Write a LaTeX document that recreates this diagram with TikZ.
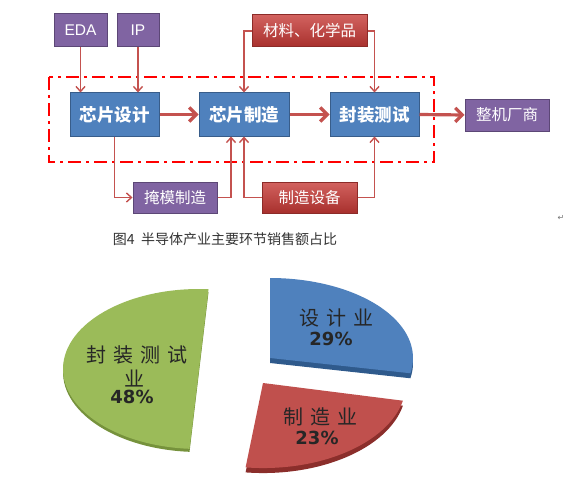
\documentclass[tikz,border=0pt]{standalone}
\usepackage{fontspec}
\setmainfont{Noto Sans CJK SC}
\newfontfamily\latinf{Liberation Sans}
\newfontfamily\pief[LetterSpace=35]{Noto Sans CJK SC}
\newfontfamily\numf{DejaVu Sans}
\usetikzlibrary{arrows.meta}
\definecolor{bxblue}{HTML}{4F81BD}
\definecolor{bxblueD}{HTML}{385D8A}
\definecolor{bxpurple}{HTML}{8064A2}
\definecolor{bxpurpleD}{HTML}{5C4776}
\definecolor{bxredT}{HTML}{D2625F}
\definecolor{bxredB}{HTML}{A8302D}
\definecolor{bxredD}{HTML}{8C2B28}
\definecolor{arr}{HTML}{C4524F}
\definecolor{pgreen}{HTML}{9BBB59}
\definecolor{pgreenD}{HTML}{76923C}
\definecolor{pblue}{HTML}{4F81BD}
\definecolor{pblueD}{HTML}{2F5A8C}
\definecolor{pred}{HTML}{C0504D}
\definecolor{predD}{HTML}{8B2E2B}
\definecolor{captxt}{HTML}{333333}
\tikzset{
  bluebox/.style={draw=bxblueD, line width=1pt, fill=bxblue, text=white, inner sep=0pt,
    font=\fontsize{17.5}{17.5}\selectfont\bfseries},
  purplebox/.style={draw=bxpurpleD, line width=1pt, fill=bxpurple, text=white, inner sep=0pt,
    font=\fontsize{15.5}{15.5}\selectfont},
  redbox/.style={draw=bxredD, line width=1pt, top color=bxredT, bottom color=bxredB, text=white, inner sep=0pt,
    font=\fontsize{15.5}{15.5}\selectfont},
  thinarr/.style={draw=arr, line width=1.4pt, -{Straight Barb[length=5pt,width=9pt]}},
  thickarr/.style={draw=arr, line width=3.2pt, -{Straight Barb[length=7pt,width=14pt]}},
  pielab/.style={inner sep=0pt, text=black!85, font=\fontsize{20}{20}\selectfont\pief},
  pienum/.style={inner sep=0pt, text=black!85, font=\fontsize{18}{18}\selectfont\numf\bfseries},
}
\begin{document}
\begin{tikzpicture}[x=1pt,y=-1pt]
\useasboundingbox (0,0) rectangle (585,476);
\fill[white] (0,0) rectangle (585,476);

% flow diagram
\draw[red, line width=2.4pt, dash pattern=on 13pt off 5pt on 3pt off 5pt] (49,77) rectangle (434,162);

\node[purplebox, minimum width=53pt, minimum height=33pt] (eda) at (80.5,30.5) {\latinf EDA};
\node[purplebox, minimum width=42pt, minimum height=33pt] (ip) at (138,30.5) {\latinf IP};
\node[redbox, minimum width=115pt, minimum height=32pt] (mat) at (309.5,31) {材料、化学品};
\node[bluebox, minimum width=89pt, minimum height=43pt] (design) at (114.5,114.5) {芯片设计};
\node[bluebox, minimum width=90pt, minimum height=43pt] (fab) at (244,114.5) {芯片制造};
\node[bluebox, minimum width=89pt, minimum height=43pt] (pkg) at (374.5,114.5) {封装测试};
\node[purplebox, minimum width=84pt, minimum height=32pt] (oem) at (507,115) {整机厂商};
\node[purplebox, minimum width=84pt, minimum height=31pt] (mask) at (175,197.5) {掩模制造};
\node[redbox, minimum width=95pt, minimum height=31pt] (equip) at (309.5,197.5) {制造设备};

\draw[thinarr] (eda.south) -- (eda.south |- design.north);
\draw[thinarr] (ip.south) -- (ip.south |- design.north);
\draw[thinarr] (mat.west) -| (fab.north);
\draw[thinarr] (mat.east) -| (pkg.north);
\draw[thinarr] (design.south) |- (mask.west);
\draw[thinarr] (mask.east) -| ([xshift=-13pt]fab.south);
\draw[thinarr] (equip.west) -| (fab.south);
\draw[thinarr] (equip.east) -| (pkg.south);
\draw[thickarr] (design.east) -- (fab.west);
\draw[thickarr] (fab.east) -- (pkg.west);
\draw[thickarr] (pkg.east) -- (oem.west);

\node[inner sep=0pt, text=black!55, font=\fontsize{8}{8}\selectfont\numf] (ret) at (561,218) {↵};

\node[inner sep=0pt, text=captxt, font=\fontsize{14}{14}\selectfont] (cap) at (225,239) {图4\ \ 半导体产业主要环节销售额占比};

% pie chart
% green slice
\fill[pgreenD] (208.5,292.2) arc[start angle=86, end angle=266, x radius=136pt, y radius=80pt] -- cycle;
\fill[pgreen] (208.5,289.2) arc[start angle=86, end angle=266, x radius=136pt, y radius=80pt] -- cycle;
% blue slice
\fill[pblueD] (270,363) -- (270,283) arc[start angle=90, end angle=-11, x radius=143pt, y radius=80pt] -- cycle;
\fill[pblue] (270,358) -- (270,278) arc[start angle=90, end angle=-11, x radius=143pt, y radius=80pt] -- cycle;
% red slice
\fill[predD] (263,388) -- (402.9,405.7) arc[start angle=-12, end angle=-97, x radius=143pt, y radius=85pt] -- cycle;
\fill[pred] (263,383) -- (402.9,400.7) arc[start angle=-12, end angle=-97, x radius=143pt, y radius=85pt] -- cycle;

\node[pielab] (l1) at (336,318) {设计业};
\node[pienum] (n1) at (331,339) {29\%};
\node[pielab] (l2) at (320,417) {制造业};
\node[pienum] (n2) at (317,438) {23\%};
\node[pielab] (l3) at (137,355) {封装测试};
\node[pielab] (l3b) at (134,378) {业};
\node[pienum] (n3) at (132,397) {48\%};
\end{tikzpicture}
\end{document}
